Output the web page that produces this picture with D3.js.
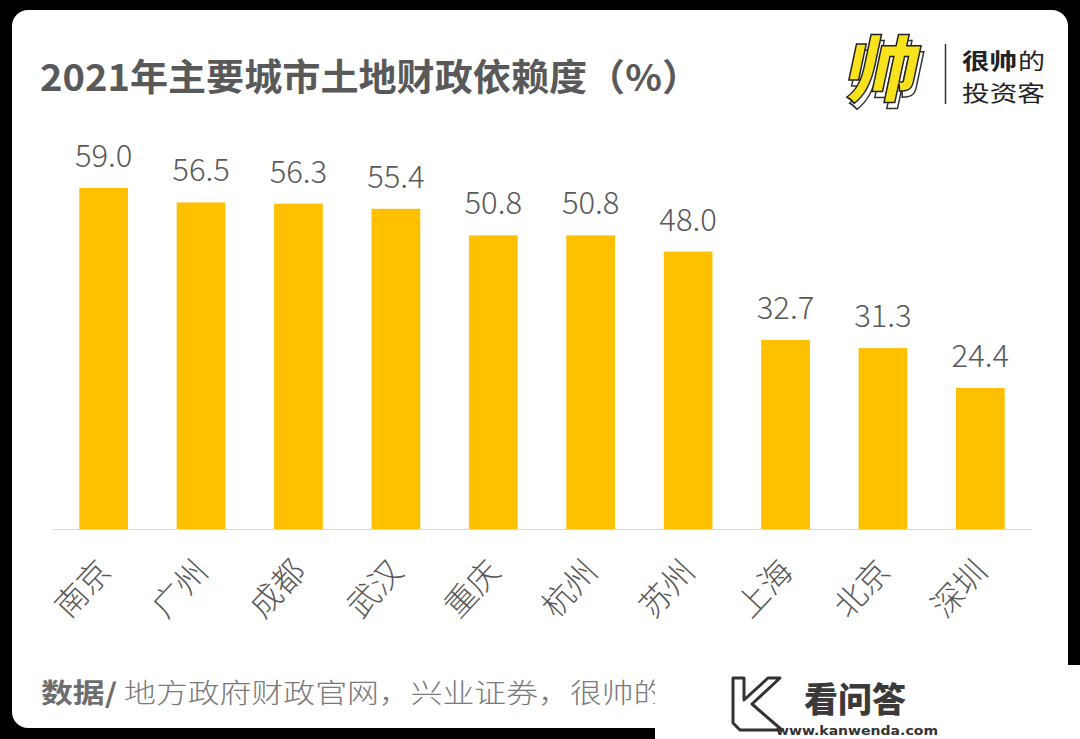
<!DOCTYPE html>
<html>
<head>
<meta charset="utf-8">
<script src="https://cdn.jsdelivr.net/npm/d3@7"></script>
<style>
  html, body { margin: 0; padding: 0; background: #000; }
  svg { display: block; }
</style>
</head>
<body>
<div id="canvas"></div>
<script>
"use strict"

/* Data */
let cities = ["南京", "广州", "成都", "武汉", "重庆", "杭州", "苏州", "上海", "北京", "深圳"];
let values = [59.0, 56.5, 56.3, 55.4, 50.8, 50.8, 48.0, 32.7, 31.3, 24.4];

let titleText = "2021年主要城市土地财政依赖度（%）";
let sourceBold = "数据/";
let sourceText = " 地方政府财政官网，兴业证券，很帅的投资客";

let svgWidth = 1080;
let svgHeight = 739;
let font = "'Noto Sans CJK SC', 'Noto Sans', sans-serif";

let svg = d3.select("#canvas")
    .append("svg")
    .attr("width", svgWidth)
    .attr("height", svgHeight);

/* black background + white card */
svg.append("rect")
    .attr("width", svgWidth)
    .attr("height", svgHeight)
    .attr("fill", "#000");

svg.append("rect")
    .attr("x", 12)
    .attr("y", 10)
    .attr("width", 1056)
    .attr("height", 718)
    .attr("rx", 16)
    .attr("fill", "#fff");

/* scales */
let xScale = d3.scaleBand()
    .domain(cities)
    .range([53, 1031])
    .paddingInner(0.5)
    .paddingOuter(0.27);

let baseline = 529;
let yScale = d3.scaleLinear()
    .domain([0, 59])
    .range([baseline, 188]);

/* bars */
svg.selectAll("rect.bar")
    .data(values)
    .join("rect")
    .attr("class", "bar")
    .attr("x", function (d, i) { return xScale(cities[i]); })
    .attr("y", function (d) { return yScale(d); })
    .attr("width", xScale.bandwidth())
    .attr("height", function (d) { return baseline - yScale(d); })
    .attr("fill", "#ffc000");

/* axis line */
svg.append("line")
    .attr("x1", 53)
    .attr("x2", 1031)
    .attr("y1", baseline + 0.5)
    .attr("y2", baseline + 0.5)
    .attr("stroke", "#d9d9d9")
    .attr("stroke-width", 1);

/* value labels */
svg.selectAll("text.value")
    .data(values)
    .join("text")
    .attr("class", "value")
    .attr("x", function (d, i) { return xScale(cities[i]) + xScale.bandwidth() / 2; })
    .attr("y", function (d) { return yScale(d) - 21; })
    .attr("text-anchor", "middle")
    .style("font-family", font)
    .style("font-weight", 300)
    .style("font-size", "31px")
    .attr("fill", "#595959")
    .text(function (d) { return d.toFixed(1); });

/* category labels, rotated */
svg.selectAll("text.cat")
    .data(cities)
    .join("text")
    .attr("class", "cat")
    .attr("transform", function (d) {
        let cx = xScale(d) + xScale.bandwidth() / 2;
        return "translate(" + (cx + 9) + "," + 573 + ") rotate(-47)";
    })
    .attr("text-anchor", "end")
    .style("font-family", font)
    .style("font-weight", 300)
    .style("font-size", "32px")
    .attr("fill", "#595959")
    .text(function (d) { return d; });

/* title */
svg.append("text")
    .attr("x", 40)
    .attr("y", 91)
    .attr("textLength", 660)
    .attr("lengthAdjust", "spacingAndGlyphs")
    .style("font-family", font)
    .style("font-weight", 700)
    .style("font-size", "37px")
    .attr("fill", "#595959")
    .text(titleText);

/* logo */
let logo = svg.append("g").attr("transform", "translate(878,96) skewX(-12)");
logo.append("text")
    .attr("x", 4)
    .attr("y", 6)
    .attr("text-anchor", "middle")
    .style("font-family", font)
    .style("font-weight", 900)
    .style("font-size", "72px")
    .attr("fill", "#fff")
    .attr("stroke", "#333")
    .attr("stroke-width", 1.5)
    .text("帅");
logo.append("text")
    .attr("x", 0)
    .attr("y", 0)
    .attr("text-anchor", "middle")
    .style("font-family", font)
    .style("font-weight", 900)
    .style("font-size", "72px")
    .attr("fill", "#f7e21b")
    .attr("stroke", "#222")
    .attr("stroke-width", 1.5)
    .text("帅");

svg.append("line")
    .attr("x1", 945.5)
    .attr("x2", 945.5)
    .attr("y1", 44)
    .attr("y2", 104)
    .attr("stroke", "#333")
    .attr("stroke-width", 1.5);

svg.append("text")
    .attr("x", 962)
    .attr("y", 69)
    .attr("textLength", 55)
    .attr("lengthAdjust", "spacingAndGlyphs")
    .style("font-family", font)
    .style("font-size", "22px")
    .style("font-weight", 700)
    .attr("fill", "#222")
    .text("很帅");

svg.append("text")
    .attr("x", 1018)
    .attr("y", 69)
    .attr("textLength", 27)
    .attr("lengthAdjust", "spacingAndGlyphs")
    .style("font-family", font)
    .style("font-size", "22px")
    .style("font-weight", 400)
    .attr("fill", "#222")
    .text("的");

svg.append("text")
    .attr("x", 962)
    .attr("y", 101)
    .attr("textLength", 83)
    .attr("lengthAdjust", "spacingAndGlyphs")
    .style("font-family", font)
    .style("font-size", "22px")
    .style("font-weight", 400)
    .attr("fill", "#222")
    .text("投资客");

/* source (stretched horizontally like the reference) */
let src = svg.append("text")
    .attr("transform", "translate(41,703) scale(1.18,1)")
    .style("font-family", font)
    .style("font-size", "27px")
    .attr("fill", "#7a7a7a");
src.append("tspan").style("font-weight", 700).attr("fill", "#6e6e6e").text(sourceBold);
src.append("tspan").style("font-weight", 300).text(sourceText);

/* watermark box */
let wm = svg.append("g");
wm.append("rect")
    .attr("x", 655)
    .attr("y", 665)
    .attr("width", 425)
    .attr("height", 74)
    .attr("fill", "#fff");
wm.append("path")
    .attr("d", "M733,678 L744,678 L744,700 L768,678 L780,678 L752,704 L782,730 L740,730 L733,723 Z")
    .attr("fill", "#fff")
    .attr("stroke", "#333")
    .attr("stroke-width", 3)
    .attr("stroke-linejoin", "round");
wm.append("text")
    .attr("x", 804)
    .attr("y", 712)
    .style("font-family", font)
    .style("font-weight", 900)
    .style("font-size", "34px")
    .attr("fill", "#3a3a3a")
    .text("看问答");
wm.append("text")
    .attr("x", 776)
    .attr("y", 735)
    .attr("textLength", 162)
    .attr("lengthAdjust", "spacingAndGlyphs")
    .style("font-family", "'DejaVu Sans', sans-serif")
    .style("font-weight", 700)
    .style("font-size", "13px")
    .attr("fill", "#333")
    .text("www.kanwenda.com");
</script>
</body>
</html>
